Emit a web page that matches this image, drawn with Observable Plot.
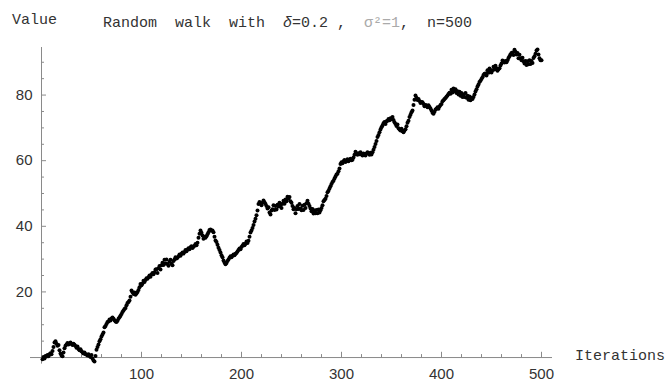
<!DOCTYPE html>
<html><head><meta charset="utf-8">
<script src="https://cdn.jsdelivr.net/npm/d3@7"></script>
<script src="https://cdn.jsdelivr.net/npm/@observablehq/plot@0.6"></script>
<style>
body{margin:0;background:#fff;}
#wrap{position:relative;width:665px;height:381px;overflow:hidden;}
#wrap svg{position:absolute;left:0;top:0;}
.lab{position:absolute;z-index:2;font-family:"Liberation Mono",monospace;font-size:15px;color:#333;white-space:pre;line-height:1;}
</style></head><body>
<div id="wrap">
<div class="lab" style="left:12px;top:13px">Value</div>
<div class="lab" style="left:103px;top:16px">Random  walk  with  <i>δ</i>=0.2 ,  <span style="color:#aaa">σ²=1</span>,  n=500</div>
<div class="lab" style="left:575px;top:349px">Iterations</div>
</div>
<script>
const values = [
-0.5, 0.2, -0.3, 0.5, 0.3,
0.8, 0.4, 1.0, 1.3, 1.0,
2.0, 3.2, 4.6, 5.0,
4.2, 3.6, 3.8, 2.2, 1.2, 0.6,
0.4, 1.5, 2.8, 3.6, 4.0,
4.4, 4.0, 4.3, 4.6, 4.1, 3.8,
4.2, 3.9, 3.5, 3.0, 3.4, 2.6, 2.2,
2.5, 1.9, 1.6, 1.2, 1.5, 1.0, 0.9,
0.6, 1.0, 0.5, 0.2, 0.8, -0.3, -0.9,
-1.2, 0.5, 2.4, 3.2, 4.0, 5.0,
5.6, 6.4, 7.0, 7.6, 9.2, 9.6, 10.2,
10.8, 11.0, 11.6, 11.3, 11.9, 12.2, 11.8,
11.4, 11.0, 10.8, 11.2, 11.8, 12.3, 12.7,
13.3, 13.9, 14.3, 14.8, 15.1, 15.9, 16.6,
16.9, 17.4, 18.5, 20.4, 19.9, 19.4, 19.8,
19.1, 19.5, 20.0, 20.6, 21.4, 22.4, 22.0,
22.6, 23.4, 23.0, 23.6, 24.2, 24.0, 24.5,
25.0, 24.6, 25.3, 25.8, 25.4, 26.0, 26.8,
26.9, 25.8, 27.2, 27.9, 26.8, 28.1, 28.9,
28.2, 29.8, 28.7, 29.9, 28.5, 28.0, 29.2,
29.8, 28.6, 28.1, 29.4, 29.9, 30.6, 30.2,
30.4, 30.9, 31.4, 31.0, 31.6, 32.0, 31.7,
32.2, 32.8, 32.4, 32.9, 33.3, 33.0, 33.6,
33.9, 33.4, 33.8, 34.1, 34.6, 34.2, 35.0,
36.5, 37.7, 38.7, 38.0, 37.2, 36.2, 36.8,
36.5, 37.0, 37.6, 38.2, 38.9, 39.0, 38.7,
38.7, 38.2, 36.8, 35.7, 35.2, 34.4, 33.5,
32.8, 32.0, 31.2, 30.6, 29.6, 29.0, 28.4,
28.8, 29.4, 29.9, 30.4, 30.9, 30.6, 31.0,
31.4, 31.2, 31.6, 31.9, 32.3, 32.8, 33.2,
33.0, 33.7, 34.1, 34.6, 34.2, 34.7, 35.4,
34.9, 35.6, 36.8, 38.1, 38.7, 39.5, 40.4,
41.5, 42.3, 43.4, 44.8, 46.8, 47.4, 47.0,
46.4, 47.2, 47.9, 47.3, 46.8, 46.2, 45.4,
45.8, 44.2, 43.6, 44.8, 45.2, 46.4, 45.0,
46.2, 45.1, 46.6, 46.0, 47.2, 46.4, 45.6,
46.9, 47.8, 46.9, 48.2, 47.6, 49.0, 48.4,
48.9, 47.6, 47.2, 46.2, 45.2, 45.6, 44.0,
45.2, 46.2, 45.3, 46.8, 45.4, 44.9, 46.3,
45.0, 46.6, 45.6, 47.0, 47.8, 46.9, 46.2,
45.4, 44.6, 45.3, 43.9, 44.8, 44.0, 45.0,
44.0, 45.1, 44.2, 44.9, 45.6, 46.4, 47.6,
48.0, 48.4, 49.2, 50.4, 50.8, 51.5, 52.2,
52.9, 53.5, 53.9, 54.6, 55.2, 55.8, 56.0,
56.8, 57.6, 59.0, 59.5, 59.2, 59.8, 60.2,
59.6, 59.9, 60.4, 59.8, 60.2, 60.6, 60.1,
60.3, 61.0, 61.8, 62.7, 62.2, 61.8, 62.3,
62.0, 62.6, 61.9, 61.6, 62.2, 61.8, 61.6,
62.2, 62.6, 62.2, 61.8, 62.4, 61.9, 62.6,
63.3, 64.2, 65.1, 66.0, 67.2, 67.8, 68.7,
69.5, 70.2, 70.7, 71.4, 71.8, 71.2, 72.0,
72.2, 72.7, 72.3, 72.9, 72.6, 73.3, 72.4,
71.7, 71.2, 70.6, 71.0, 69.9, 69.5, 69.2,
69.7, 69.0, 68.7, 69.2, 69.6, 70.5, 71.6,
72.2, 73.3, 74.0, 74.8, 75.3, 77.0, 78.6,
79.9, 79.2, 78.5, 78.8, 78.2, 77.6, 77.9,
77.8, 77.3, 76.6, 77.0, 76.8, 76.3, 76.9,
76.4, 75.9, 75.3, 74.6, 74.3, 74.9, 75.6,
75.8, 76.3, 75.8, 76.5, 77.0, 77.3, 78.1,
78.4, 78.8, 79.1, 79.5, 79.9, 80.3, 80.7,
80.4, 81.6, 80.8, 82.0, 81.2, 81.8, 80.6,
81.2, 80.2, 81.0, 79.8, 80.6, 79.4, 80.2,
79.4, 80.6, 79.2, 79.8, 78.6, 79.6, 78.4,
79.2, 78.8, 79.4, 80.2, 81.1, 81.8, 82.6,
83.2, 84.0, 84.4, 84.9, 85.4, 86.1, 86.5,
86.6, 86.0, 87.6, 86.8, 88.1, 87.6, 86.9,
87.6, 88.6, 87.8, 88.9, 88.2, 87.4, 87.9,
88.2, 89.0, 89.6, 90.5, 90.2, 89.9, 90.4,
90.0, 90.6, 91.3, 91.8, 92.4, 92.8, 93.0,
92.2, 93.8, 93.2, 92.4, 92.8, 91.2, 92.3,
91.2, 90.6, 91.4, 90.3, 89.6, 90.4, 89.2,
90.3, 89.4, 90.6, 89.5, 90.4, 89.8, 91.3,
91.8, 92.6, 93.6, 93.9, 92.4, 91.2, 90.6,
90.6
];
const iterations = d3.range(1, values.length + 1);
const xMajorTicks = [100, 200, 300, 400, 500];
const xMinorTicks = [20, 40, 60, 80, 120, 140, 160, 180, 220, 240, 260, 280, 320, 340, 360, 380, 420, 440, 460, 480];
const yMajorTicks = [20, 40, 60, 80];
const yMinorTicks = [5, 10, 15, 25, 30, 35, 45, 50, 55, 65, 70, 75, 85, 90];

const points = values.map((v, i) => ({iteration: iterations[i], value: v}));
const axisColor = "#8a8a8a";
const labelFont = "Liberation Sans, Arial, sans-serif";

const chart = Plot.plot({
  width: 665,
  height: 381,
  marginLeft: 30,
  marginRight: 113,
  marginTop: 47,
  marginBottom: 1,
  x: {domain: [-11, 511], axis: null},
  y: {domain: [-7, 94.5], axis: null},
  style: {background: "white"},
  marks: [
    Plot.ruleY([0], {x1: -11, x2: 511, stroke: axisColor, strokeWidth: 1}),
    Plot.ruleX([0], {y1: -2, y2: 94.5, stroke: axisColor, strokeWidth: 1}),
    Plot.ruleX(xMajorTicks, {x: d => d, y1: 0, y2: 1.6, stroke: axisColor}),
    Plot.ruleX(xMinorTicks, {x: d => d, y1: 0, y2: 0.9, stroke: axisColor}),
    Plot.ruleY(yMajorTicks, {y: d => d, x1: 0, x2: 5, stroke: axisColor}),
    Plot.ruleY(yMinorTicks, {y: d => d, x1: 0, x2: 3, stroke: axisColor}),
    Plot.text(xMajorTicks, {x: d => d, y: 0, dy: 17, text: d => String(d), fontSize: 15, fill: "#333", fontFamily: labelFont}),
    Plot.text(yMajorTicks, {x: 0, y: d => d, dx: -9, textAnchor: "end", text: d => String(d), fontSize: 15, fill: "#333", fontFamily: labelFont}),
    Plot.dot(points, {x: "iteration", y: "value", r: 2.0, fill: "black", stroke: null})
  ]
});
document.getElementById("wrap").appendChild(chart);
</script>
</body></html>
